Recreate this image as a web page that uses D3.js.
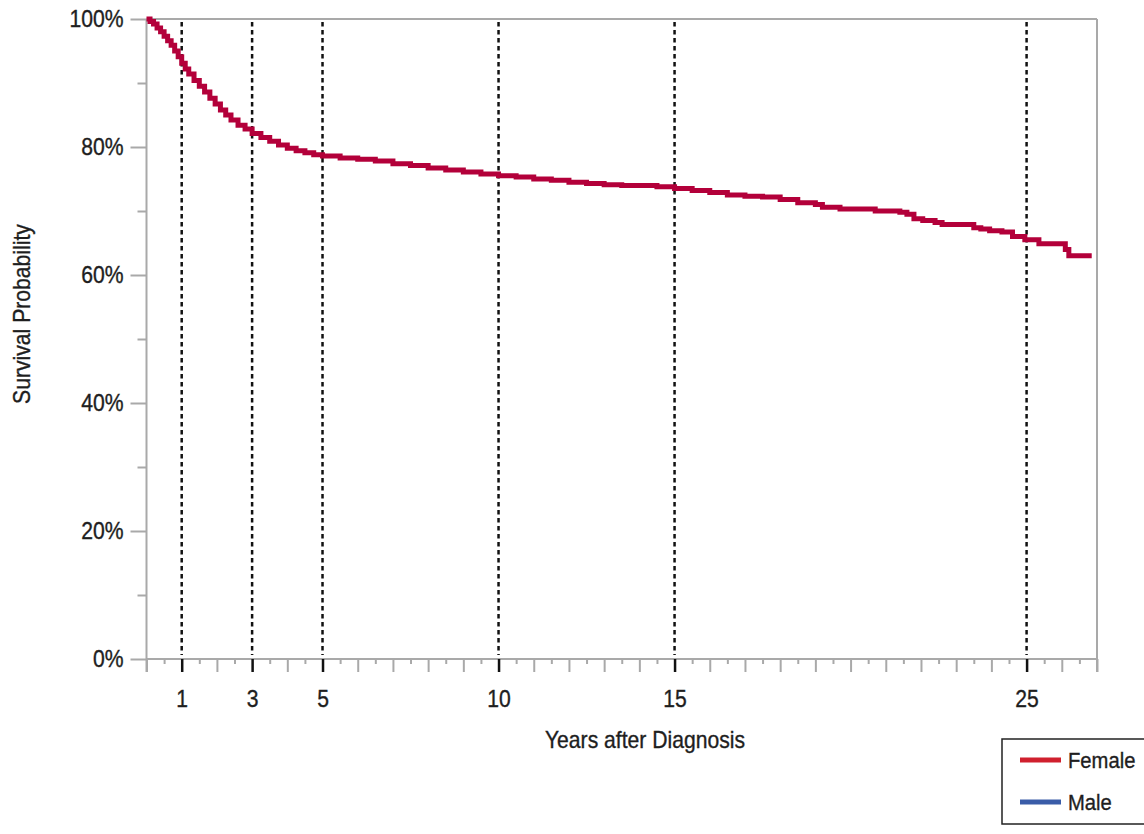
<!DOCTYPE html>
<html>
<head>
<meta charset="utf-8">
<script src="https://cdn.jsdelivr.net/npm/d3@7"></script>
<style>
  html, body { margin: 0; padding: 0; background: #fff; }
  svg { display: block; }
  text { font-family: "Liberation Sans", Arial, sans-serif; fill: #1e1e1e; stroke: #1e1e1e; stroke-width: 0.35px; }
</style>
</head>
<body>
<script>
// ---- data ----
const years = [0, 0.1, 0.2, 0.3, 0.4, 0.5, 0.6, 0.7, 0.8, 0.9, 1.0, 1.1, 1.2, 1.35, 1.5, 1.65, 1.8, 1.95, 2.1, 2.25, 2.4, 2.6, 2.8, 3.0, 3.25, 3.5, 3.75, 4.0, 4.25, 4.5, 4.75, 5.0, 5.5, 6.0, 6.5, 7.0, 7.5, 8.0, 8.5, 9.0, 9.5, 10.0, 10.5, 11.0, 11.5, 12.0, 12.5, 13.0, 13.5, 14.0, 14.5, 15.0, 15.5, 16.0, 16.5, 17.0, 17.5, 18.0, 18.5, 19.0, 19.2, 19.7, 20.7, 21.4, 21.6, 21.8, 22.05, 22.4, 22.6, 23.5, 23.7, 23.95, 24.3, 24.6, 24.95, 25.35, 26.1, 26.2, 26.85];
const survival = [100, 99.6, 99.2, 98.6, 98.0, 97.3, 96.6, 95.9, 95.0, 94.1, 93.1, 92.2, 91.4, 90.4, 89.5, 88.6, 87.6, 86.7, 85.8, 85.0, 84.2, 83.4, 82.8, 82.1, 81.5, 80.9, 80.3, 79.8, 79.4, 79.1, 78.8, 78.6, 78.3, 78.1, 77.8, 77.4, 77.1, 76.7, 76.4, 76.1, 75.8, 75.5, 75.3, 75.0, 74.8, 74.5, 74.3, 74.1, 74.0, 74.0, 73.8, 73.5, 73.2, 72.9, 72.5, 72.3, 72.2, 71.8, 71.3, 71.0, 70.6, 70.3, 70.0, 69.8, 69.5, 68.8, 68.5, 68.2, 67.9, 67.4, 67.2, 66.9, 66.7, 66.0, 65.5, 64.9, 64.0, 63.0, 63.0];
const yMajorTicks = [0, 20, 40, 60, 80, 100];
const yMinorTicks = [10, 30, 50, 70, 90];
const xLabelYears = [1, 3, 5, 10, 15, 25];
const xMax = 27;
const legendLabels = ["Female", "Male"];
const legendColors = ["#d0202e", "#3a5ca8"];
const curveColor = "#b3003a";

const W = 1144, H = 834;
const svg = d3.select("body").append("svg").attr("width", W).attr("height", H);

const x = d3.scaleLinear().domain([0, xMax]).range([146.5, 1097]);
const y = d3.scaleLinear().domain([0, 100]).range([659, 19]);
const gray = "#a9a9a9";
const axisBottomY = 672;
const FONT = 23;
const SX = 0.92; // horizontal condensing of text

// move x/y of a text into a transform and condense it horizontally
function condense(sel) {
  sel.each(function () {
    const t = d3.select(this);
    const tx = +t.attr("x") || 0, ty = +t.attr("y") || 0;
    t.attr("x", 0).attr("y", 0).attr("transform", `translate(${tx},${ty}) scale(${SX},1)`);
  });
}

// frame: left, right, top, bottom
svg.append("line").attr("x1", x(0)).attr("x2", x(0)).attr("y1", y(100)).attr("y2", axisBottomY)
  .attr("stroke", gray).attr("stroke-width", 2);
svg.append("line").attr("x1", x(xMax)).attr("x2", x(xMax)).attr("y1", y(100)).attr("y2", axisBottomY)
  .attr("stroke", gray).attr("stroke-width", 2);
svg.append("line").attr("x1", x(0)).attr("x2", x(xMax)).attr("y1", y(100)).attr("y2", y(100))
  .attr("stroke", gray).attr("stroke-width", 2);
svg.append("line").attr("x1", x(0)).attr("x2", x(xMax)).attr("y1", y(0)).attr("y2", y(0))
  .attr("stroke", gray).attr("stroke-width", 2);

// Y axis (major)
const yAxis = svg.append("g").attr("transform", `translate(${x(0)},0)`)
  .call(d3.axisLeft(y).tickValues(yMajorTicks).tickSize(16).tickPadding(7).tickFormat(d => d + "%"));
yAxis.select(".domain").remove();
yAxis.selectAll(".tick line").attr("stroke", gray).attr("stroke-width", 2);
yAxis.selectAll(".tick text").attr("font-size", FONT).attr("fill", "#1e1e1e")
  .style("font-family", '"Liberation Sans", Arial, sans-serif').call(condense);
// Y axis (minor)
const yAxisMinor = svg.append("g").attr("transform", `translate(${x(0)},0)`)
  .call(d3.axisLeft(y).tickValues(yMinorTicks).tickSize(9).tickFormat(""));
yAxisMinor.select(".domain").remove();
yAxisMinor.selectAll(".tick line").attr("stroke", gray).attr("stroke-width", 2);

// X axis
const xTicks = d3.range(0, xMax + 0.001, 0.5);
const xAxis = svg.append("g").attr("transform", `translate(0,${y(0)})`)
  .call(d3.axisBottom(x).tickValues(xTicks).tickSize(13)
    .tickFormat(d => xLabelYears.includes(d) ? String(d) : ""));
xAxis.select(".domain").remove();
xAxis.selectAll(".tick line")
  .attr("stroke", d => xLabelYears.includes(d) ? "#111" : gray)
  .attr("stroke-width", d => xLabelYears.includes(d) ? 2.5 : 2)
  .attr("y2", d => (Number.isInteger(d) ? 13 : 5));
xAxis.selectAll(".tick text").attr("font-size", FONT).attr("fill", "#1e1e1e")
  .attr("y", 40).attr("dy", "0.35em")
  .style("font-family", '"Liberation Sans", Arial, sans-serif').call(condense);

// dotted reference lines
svg.append("g").selectAll("line").data(xLabelYears).join("line")
  .attr("x1", d => x(d)).attr("x2", d => x(d))
  .attr("y1", y(100) + 3).attr("y2", y(0) - 4)
  .attr("stroke", "#111").attr("stroke-width", 2.5).attr("stroke-dasharray", "4.5,3.5");

// axis titles
svg.append("text").attr("x", 645).attr("y", 740).attr("dy", "0.35em")
  .attr("text-anchor", "middle").attr("font-size", FONT).text("Years after Diagnosis").call(condense);
svg.append("g").attr("transform", "translate(22,314) rotate(-90)")
  .append("text").attr("dy", "0.35em")
  .attr("text-anchor", "middle").attr("font-size", FONT).text("Survival Probability").call(condense);

// survival curve
const pts = years.map((t, i) => [t, survival[i]]);
svg.append("path").datum(pts)
  .attr("fill", "none").attr("stroke", curveColor).attr("stroke-width", 5)
  .attr("d", d3.line().x(d => x(d[0])).y(d => y(d[1])).curve(d3.curveStepAfter));

// legend
const lg = svg.append("g");
lg.append("rect").attr("x", 1002).attr("y", 739).attr("width", 170).attr("height", 85)
  .attr("fill", "#fff").attr("stroke", "#222").attr("stroke-width", 1.5);
lg.selectAll("g.item").data(legendLabels).join("g").attr("class", "item")
  .attr("transform", (d, i) => `translate(0,${760 + i * 42})`)
  .each(function (d, i) {
    const g = d3.select(this);
    g.append("line").attr("x1", 1020).attr("x2", 1061).attr("y1", 0).attr("y2", 0)
      .attr("stroke", legendColors[i]).attr("stroke-width", 5);
    g.append("text").attr("x", 1068).attr("y", 0).attr("dy", "0.35em").attr("font-size", 22).text(d).call(condense);
  });
</script>
</body>
</html>
